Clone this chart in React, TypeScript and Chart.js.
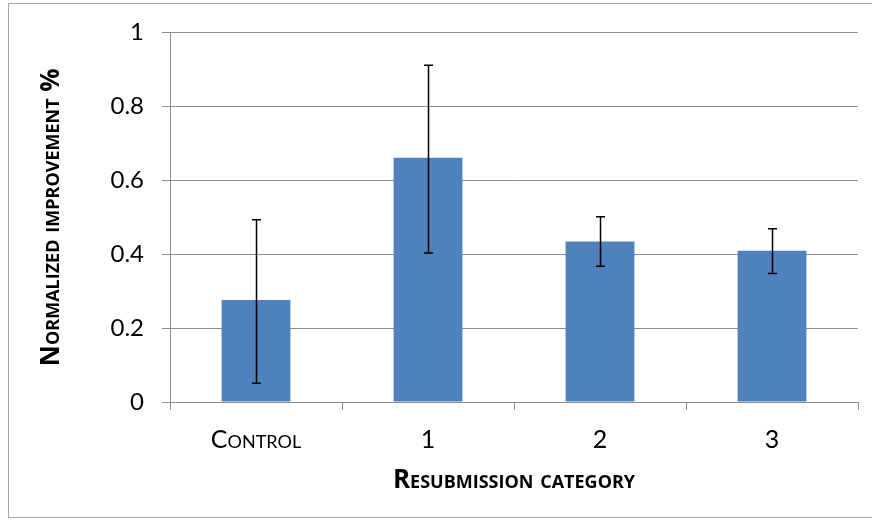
import React, { useEffect, useRef } from "react";
import { Chart, registerables } from "chart.js";

Chart.register(...registerables);

const categories = ["Control", "1", "2", "3"];
const values = [0.276, 0.661, 0.434, 0.409];
const errLow = [0.051, 0.403, 0.367, 0.348];
const errHigh = [0.493, 0.911, 0.501, 0.469];
const yMin = 0;
const yMax = 1;
const yStep = 0.2;
const yTitle = "Normalized improvement %";
const xTitle = "Resubmission category";

const FONT = "Lato, 'Open Sans', sans-serif";
const TITLE_FONT = "'Open Sans', Lato, sans-serif";
const GRID = "#8c8c8c";

const framePlugin = {
  id: "frame",
  beforeDraw(chart: any) {
    const { ctx } = chart;
    ctx.save();
    ctx.fillStyle = "#ffffff";
    ctx.fillRect(0, 0, chart.width, chart.height);
    ctx.strokeStyle = "#a6a6a6";
    ctx.lineWidth = 1;
    ctx.strokeRect(8.5, 3.5, 900, 514);
    ctx.restore();
  },
};

const errorBarPlugin = {
  id: "errorBars",
  afterDatasetsDraw(chart: any) {
    const { ctx } = chart;
    const meta = chart.getDatasetMeta(0);
    const yScale = chart.scales.y;
    ctx.save();
    ctx.strokeStyle = "#000000";
    ctx.lineWidth = 1.5;
    meta.data.forEach((bar: any, i: number) => {
      const x = Math.round(bar.x) + 0.5;
      const yHi = yScale.getPixelForValue(errHigh[i]);
      const yLo = yScale.getPixelForValue(errLow[i]);
      const cap = 4.5;
      ctx.beginPath();
      ctx.moveTo(x, yHi);
      ctx.lineTo(x, yLo);
      ctx.moveTo(x - cap, yHi);
      ctx.lineTo(x + cap, yHi);
      ctx.moveTo(x - cap, yLo);
      ctx.lineTo(x + cap, yLo);
      ctx.stroke();
    });
    ctx.restore();
  },
};

export default function App() {
  const ref = useRef<HTMLCanvasElement | null>(null);

  useEffect(() => {
    document.body.style.margin = "0";
    if (!ref.current) return;
    const chart = new Chart(ref.current, {
      type: "bar",
      data: {
        labels: categories,
        datasets: [
          {
            data: values,
            backgroundColor: "#4f81bd",
            borderWidth: 0,
            barPercentage: 0.4,
            categoryPercentage: 1,
          },
        ],
      },
      options: {
        responsive: false,
        animation: false,
        devicePixelRatio: 1,
        layout: { padding: { top: 30, right: 14, left: 0, bottom: 0 } },
        plugins: {
          legend: { display: false },
          tooltip: { enabled: false },
        },
        scales: {
          x: {
            afterFit(scale: any) {
              scale.height = 118;
            },
            grid: {
              offset: true,
              drawOnChartArea: false,
              drawTicks: true,
              tickLength: 8,
              color: GRID,
            },
            border: { display: true, color: GRID },
            ticks: {
              color: "#000",
              padding: 15,
              font: { family: FONT, size: 25, weight: "small-caps normal" as any },
            },
            title: {
              display: true,
              text: xTitle,
              color: "#000",
              padding: { top: 0, bottom: 24 },
              font: { family: TITLE_FONT, size: 26, weight: "small-caps bold" as any },
            },
          },
          y: {
            min: yMin,
            max: yMax,
            afterFit(scale: any) {
              scale.width = 170;
            },
            grid: {
              color: GRID,
              drawTicks: true,
              tickLength: 8,
            },
            border: { display: true, color: GRID },
            ticks: {
              stepSize: yStep,
              color: "#000",
              padding: 18,
              font: { family: FONT, size: 24 },
              callback: (v: any) => String(Math.round(Number(v) * 10) / 10),
            },
            title: {
              display: true,
              text: yTitle,
              color: "#000",
              padding: { top: 36, bottom: 0 },
              font: { family: TITLE_FONT, size: 26, weight: "small-caps bold" as any },
            },
          },
        },
      },
      plugins: [framePlugin, errorBarPlugin],
    });
    return () => chart.destroy();
  }, []);

  return (
    <canvas
      ref={ref}
      width={872}
      height={520}
      style={{ position: "fixed", left: 0, top: 0, width: 872, height: 520 }}
    />
  );
}
